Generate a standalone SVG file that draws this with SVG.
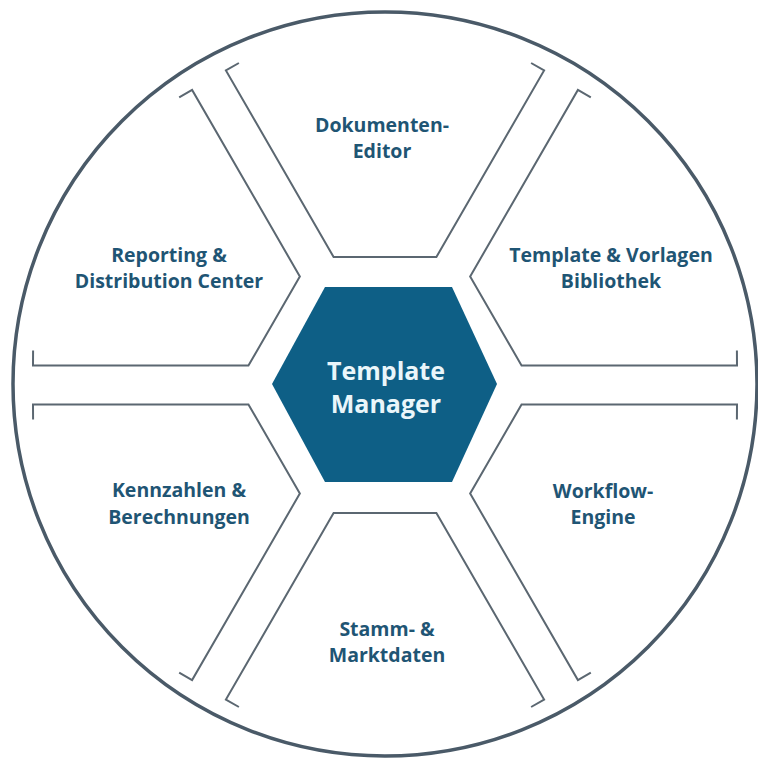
<svg xmlns="http://www.w3.org/2000/svg" xmlns:xlink="http://www.w3.org/1999/xlink" width="758" height="759" viewBox="0 0 758 759">
  <style>
    .seg { fill: none; stroke: #5b6771; stroke-width: 2; stroke-linejoin: miter; }
    .ring { fill: none; stroke: #4a5a68; stroke-width: 3.5; }
    .lbl { font-family: "Open Sans", "Liberation Sans", sans-serif; font-weight: 700; font-size: 19.5px; fill: #1f5574; text-anchor: middle; }
    .core { font-family: "Open Sans", "Liberation Sans", sans-serif; font-weight: 700; font-size: 25px; fill: #eaf6fa; text-anchor: middle; }
  </style>
  <defs>
    <path id="segShape" d="M -146.1 -322 L -159.1 -314.6 L -51.4 -128 L 51.4 -128 L 159.1 -314.6 L 146.1 -322"/>
  </defs>
  <rect width="758" height="759" fill="#ffffff"/>
  <circle class="ring" cx="385" cy="384" r="372"/>

  <g id="dokumenten-editor">
    <use xlink:href="#segShape" class="seg" transform="translate(385 385)"/>
    <text class="lbl" x="382" y="132">Dokumenten-</text>
    <text class="lbl" x="382" y="158">Editor</text>
  </g>
  <g id="template-vorlagen-bibliothek">
    <use xlink:href="#segShape" class="seg" transform="translate(385 385) rotate(60)"/>
    <text class="lbl" x="611" y="262">Template &amp; Vorlagen</text>
    <text class="lbl" x="611" y="288">Bibliothek</text>
  </g>
  <g id="workflow-engine">
    <use xlink:href="#segShape" class="seg" transform="translate(385 385) rotate(120)"/>
    <text class="lbl" x="603" y="498">Workflow-</text>
    <text class="lbl" x="603" y="524">Engine</text>
  </g>
  <g id="stamm-marktdaten">
    <use xlink:href="#segShape" class="seg" transform="translate(385 385) rotate(180)"/>
    <text class="lbl" x="387" y="636">Stamm- &amp;</text>
    <text class="lbl" x="387" y="662">Marktdaten</text>
  </g>
  <g id="kennzahlen-berechnungen">
    <use xlink:href="#segShape" class="seg" transform="translate(385 385) rotate(240)"/>
    <text class="lbl" x="179" y="497">Kennzahlen &amp;</text>
    <text class="lbl" x="179" y="524">Berechnungen</text>
  </g>
  <g id="reporting-distribution-center">
    <use xlink:href="#segShape" class="seg" transform="translate(385 385) rotate(300)"/>
    <text class="lbl" x="169" y="262">Reporting &amp;</text>
    <text class="lbl" x="169" y="288">Distribution Center</text>
  </g>

  <g id="template-manager">
    <polygon points="325,287 452,287 497,384 452,482 325,482 272,384" fill="#0e5f86"/>
    <text class="core" x="386" y="380">Template</text>
    <text class="core" x="386" y="413">Manager</text>
  </g>
</svg>
